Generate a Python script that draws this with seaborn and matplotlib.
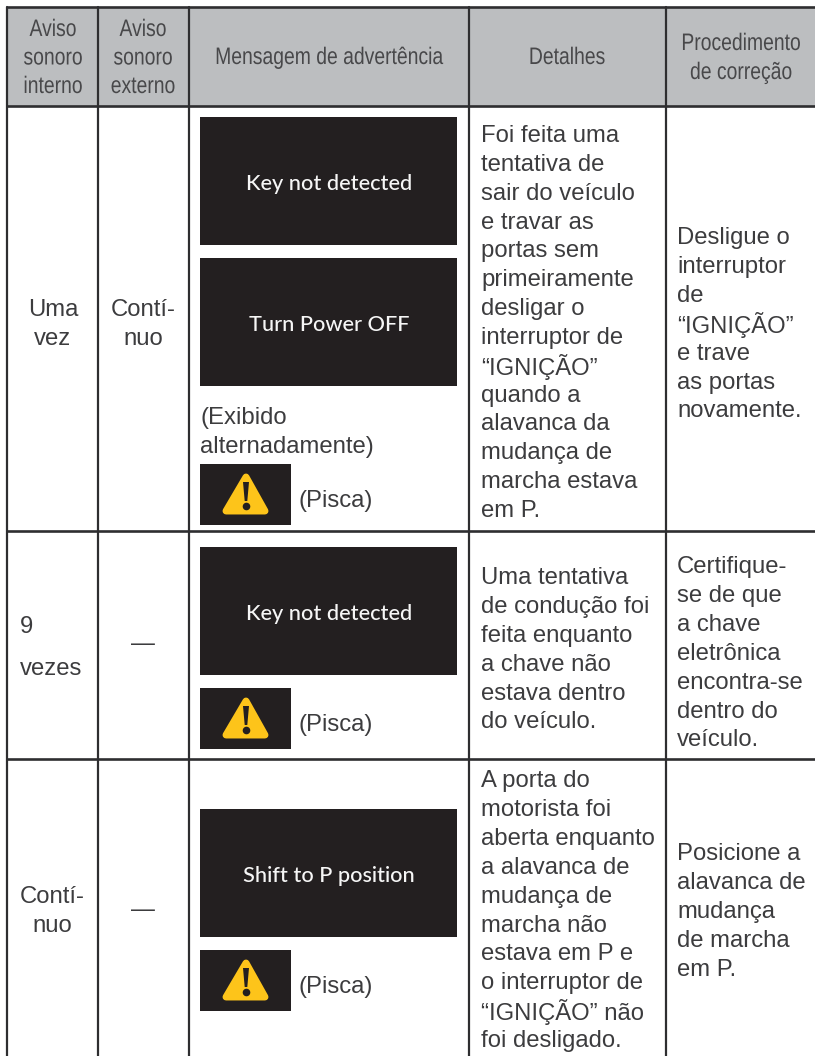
# warning message table, drawn on one pixel-sized axes
import matplotlib.patheffects as pe
import matplotlib.pyplot as plt
import seaborn as sns
from matplotlib.transforms import Affine2D

header_col1 = ["Aviso", "sonoro", "interno"]
header_col2 = ["Aviso", "sonoro", "externo"]
header_col3 = ["Mensagem de advertência"]
header_col4 = ["Detalhes"]
header_col5 = ["Procedimento", "de correção"]

row1_col1 = ["Uma", "vez"]
row1_col2 = ["Contí-", "nuo"]
row1_panels = ["Key not detected", "Turn Power OFF"]
row1_note = ["(Exibido", "alternadamente)"]
row1_details = ["Foi feita uma", "tentativa de", "sair do veículo", "e travar as", "portas sem",
                "primeiramente", "desligar o", "interruptor de", "“IGNIÇÃO”", "quando a",
                "alavanca da", "mudança de", "marcha estava", "em P."]
row1_fix = ["Desligue o", "interruptor", "de", "“IGNIÇÃO”", "e trave", "as portas", "novamente."]

row2_col1 = ["9", "vezes"]
row2_panels = ["Key not detected"]
row2_details = ["Uma tentativa", "de condução foi", "feita enquanto", "a chave não",
                "estava dentro", "do veículo."]
row2_fix = ["Certifique-", "se de que", "a chave", "eletrônica", "encontra-se", "dentro do", "veículo."]

row3_col1 = ["Contí-", "nuo"]
row3_panels = ["Shift to P position"]
row3_details = ["A porta do", "motorista foi", "aberta enquanto", "a alavanca de", "mudança de",
                "marcha não", "estava em P e", "o interruptor de", "“IGNIÇÃO” não", "foi desligado."]
row3_fix = ["Posicione a", "alavanca de", "mudança", "de marcha", "em P."]

no_sound = "—"
blink = "(Pisca)"

col_edges = [7, 98, 189, 469, 666]
row_edges = [7, 106, 531, 759]

HEAD_FILL = "#bcbec0"
LINE = "#2e2e30"
INK = "#3c3c3e"
HEAD_INK = "#48484a"
PANEL = "#231f20"
AMBER = "#fdc41a"

sns.set_theme(style="white")
plt.rcParams["font.family"] = ["Liberation Sans", "DejaVu Sans"]

fig, ax = plt.subplots(figsize=(8.15, 10.56), dpi=100)
fig.subplots_adjust(left=0, right=1, top=1, bottom=0)


# no narrow font installed, so squeeze the glyphs around the text centre
class Squeeze(pe.AbstractPathEffect):
    def __init__(self, cx, factor):
        super().__init__()
        self.cx = cx
        self.factor = factor

    def draw_path(self, renderer, gc, tpath, affine, rgbFace=None):
        squeeze = Affine2D().translate(-self.cx, 0).scale(self.factor, 1).translate(self.cx, 0)
        renderer.draw_path(gc, tpath, affine + squeeze, rgbFace)


def put_lines(lines, x, first_y, step=28.9, ha="left", size=17.2):
    for i, line in enumerate(lines):
        ax.text(x, first_y + 2 + i * step, line, ha=ha, va="center", fontsize=size, color=INK)


def put_header(lines, x, first_y, step=28.5):
    for i, line in enumerate(lines):
        ax.text(x, first_y + 1 + i * step, line, ha="center", va="center", fontsize=17.2,
                color=HEAD_INK, path_effects=[Squeeze(x, 0.81)])


def panel(top, label):
    ax.fill_between([200, 457], top, top + 128, color=PANEL, lw=0, zorder=2)
    ax.text(329, top + 67, label, ha="center", va="center", fontsize=15.7, color="#f6f6f6",
            family="Lato", weight=500, zorder=3)


def warning(top):
    ax.fill_between([200, 291], top, top + 61, color=PANEL, lw=0, zorder=2)
    ax.fill([246, 226, 265], [top + 13, top + 47, top + 47], facecolor=AMBER, edgecolor=AMBER,
            lw=5, joinstyle="round", zorder=3)
    ax.fill([243, 249, 247.3, 244.7], [top + 18, top + 18, top + 37, top + 37], color=PANEL,
            lw=0, zorder=4)
    ax.scatter([246], [top + 42], s=30, color=PANEL, lw=0, zorder=4)
    ax.text(299, top + 37, blink, ha="left", va="center", fontsize=17.2, color=INK, zorder=3)


# header band and table rules
ax.fill_between([col_edges[0], 815], row_edges[0], row_edges[1], color=HEAD_FILL, lw=0, zorder=0)
for x in col_edges:
    sns.lineplot(x=[x, x], y=[row_edges[0], 1056], ax=ax, color=LINE, linewidth=1.6,
                 estimator=None, sort=False, zorder=1)
for y in row_edges:
    sns.lineplot(x=[col_edges[0], 815], y=[y, y], ax=ax, color=LINE, linewidth=1.9,
                 estimator=None, sort=False, zorder=1)

# header text
put_header(header_col1, 53, 29)
put_header(header_col2, 143, 29)
put_header(header_col3, 329, 57)
put_header(header_col4, 567, 57)
put_header(header_col5, 741, 43, step=29)

# row 1
put_lines(row1_col1, 53, 308, ha="center")
put_lines(row1_col2, 143, 308, ha="center")
panel(117, row1_panels[0])
panel(258, row1_panels[1])
put_lines(row1_note, 200, 416, step=29)
warning(464)
put_lines(row1_details, 481, 134, step=28.85)
put_lines(row1_fix, 677, 236)

# row 2
put_lines(row2_col1, 20, 625, step=42)
ax.text(143, 644, no_sound, ha="center", va="center", fontsize=17.2, color=INK)
panel(547, row2_panels[0])
warning(688)
put_lines(row2_details, 481, 576)
put_lines(row2_fix, 677, 565)

# row 3
put_lines(row3_col1, 52, 895, ha="center")
ax.text(143, 910, no_sound, ha="center", va="center", fontsize=17.2, color=INK)
panel(809, row3_panels[0])
warning(950)
put_lines(row3_details, 481, 779)
put_lines(row3_fix, 677, 852)

ax.set_xlim(0, 815)
ax.set_ylim(1056, 0)
ax.axis("off")
fig.savefig("out.png", dpi=100)
